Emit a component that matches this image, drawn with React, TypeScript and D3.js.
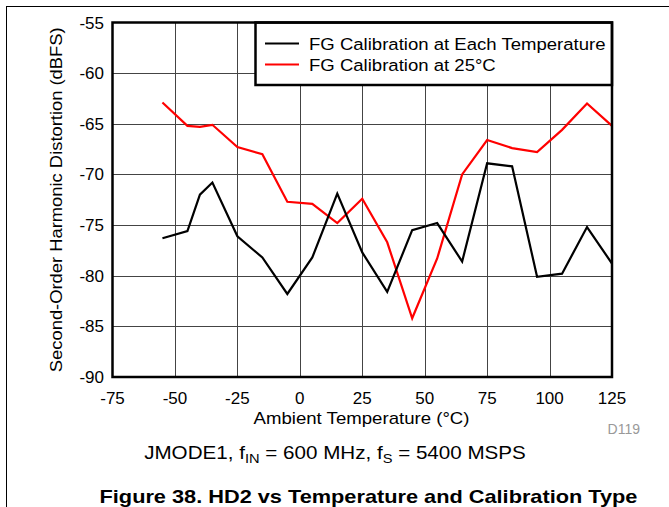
import { useEffect, useRef } from 'react';
import * as d3 from 'd3';

// temperatures (°C) sampled in the reference
const temps = [-55, -45, -40, -35, -25, -15, -5, 5, 15, 25, 35, 45, 55, 65, 75, 85, 95, 105, 115, 125];
// HD2 (dBFS), FG calibration at each temperature
const hd2EachTemp = [-76.3, -75.6, -72.0, -70.8, -76.1, -78.2, -81.8, -78.2, -71.9, -77.7, -81.6, -75.5, -74.8, -78.6, -68.9, -69.2, -80.1, -79.8, -75.2, -78.8];
// HD2 (dBFS), FG calibration at 25°C
const hd2At25 = [-62.9, -65.2, -65.3, -65.1, -67.3, -68.0, -72.7, -72.9, -74.8, -72.4, -76.7, -84.2, -78.3, -70.0, -66.6, -67.4, -67.8, -65.6, -63.0, -65.2];

const xTicks = [-75, -50, -25, 0, 25, 50, 75, 100, 125];
const yTicks = [-55, -60, -65, -70, -75, -80, -85, -90];

const seriesNames = ['FG Calibration at Each Temperature', 'FG Calibration at 25°C'];
const seriesColors = ['#000000', '#ff0000'];

const W = 669;
const H = 507;
const FONT = '"Liberation Sans", Arial, Helvetica, sans-serif';

export default function App() {
  const ref = useRef<SVGSVGElement | null>(null);

  useEffect(() => {
    if (!ref.current) return;
    const svg = d3.select(ref.current);
    svg.selectAll('*').remove();

    const m = { left: 112.5, top: 22.5, right: 612, bottom: 377 };

    const x = d3.scaleLinear().domain([-75, 125]).range([m.left, m.right]);
    const y = d3.scaleLinear().domain([-55, -90]).range([m.top, m.bottom]);

    // text helper: the source font is a bit wider than Liberation Sans, so stretch horizontally
    const label = (
      px: number,
      py: number,
      str: string,
      size: number,
      anchor: string,
      sx = 1,
      rot = 0,
    ) =>
      svg
        .append('text')
        .attr('transform', `translate(${px},${py}) rotate(${rot}) scale(${sx},1)`)
        .attr('text-anchor', anchor)
        .attr('font-family', FONT)
        .attr('font-size', size)
        .attr('fill', '#000')
        .text(str);

    // outer page frame (top + left rule)
    svg.append('line').attr('x1', 6).attr('x2', W).attr('y1', 6.5).attr('y2', 6.5)
      .attr('stroke', '#000').attr('stroke-width', 1);
    svg.append('line').attr('x1', 6.5).attr('x2', 6.5).attr('y1', 6).attr('y2', H)
      .attr('stroke', '#000').attr('stroke-width', 1);

    // grid
    const grid = svg.append('g');
    grid.selectAll('line.gx')
      .data(xTicks.slice(1, -1))
      .enter()
      .append('line')
      .attr('x1', (d) => Math.round(x(d)) + 0.5)
      .attr('x2', (d) => Math.round(x(d)) + 0.5)
      .attr('y1', m.top)
      .attr('y2', m.bottom)
      .attr('stroke', '#444')
      .attr('stroke-width', 1);
    grid.selectAll('line.gy')
      .data(yTicks.slice(1, -1))
      .enter()
      .append('line')
      .attr('x1', m.left)
      .attr('x2', m.right)
      .attr('y1', (d) => Math.round(y(d)) + 0.5)
      .attr('y2', (d) => Math.round(y(d)) + 0.5)
      .attr('stroke', '#444')
      .attr('stroke-width', 1);

    // series lines (red first so black sits on top)
    const line = d3.line<number>()
      .x((_d, i) => x(temps[i]))
      .y((d) => y(d));

    [hd2At25, hd2EachTemp].forEach((vals, k) => {
      svg.append('path')
        .datum(vals)
        .attr('d', line)
        .attr('fill', 'none')
        .attr('stroke', k === 0 ? seriesColors[1] : seriesColors[0])
        .attr('stroke-width', 2.2)
        .attr('stroke-linejoin', 'miter');
    });

    // legend box
    svg.append('rect')
      .attr('x', 255.5)
      .attr('y', m.top)
      .attr('width', m.right - 255.5)
      .attr('height', 62.5)
      .attr('fill', '#fff')
      .attr('stroke', '#000')
      .attr('stroke-width', 2.5);
    seriesNames.forEach((name, i) => {
      const ly = 43.5 + i * 21;
      svg.append('line')
        .attr('x1', 265).attr('x2', 299)
        .attr('y1', ly).attr('y2', ly)
        .attr('stroke', seriesColors[i])
        .attr('stroke-width', 2.2);
      label(309, ly + 6, name, 17, 'start', 1.092);
    });

    // plot frame
    svg.append('rect')
      .attr('x', m.left)
      .attr('y', m.top)
      .attr('width', m.right - m.left)
      .attr('height', m.bottom - m.top)
      .attr('fill', 'none')
      .attr('stroke', '#000')
      .attr('stroke-width', 2.5);

    // tick labels
    yTicks.forEach((d) => label(104, y(d) + 6, String(d), 17, 'end'));
    xTicks.forEach((d) => label(x(d), 404, String(d), 17, 'middle'));

    // axis titles
    label(361.5, 424, 'Ambient Temperature (°C)', 17, 'middle', 1.095);
    label(62, (m.top + m.bottom) / 2, 'Second-Order Harmonic Distortion (dBFS)', 17, 'middle', 1.08, -90);

    label(640, 434, 'D119', 14, 'end').attr('fill', '#999');

    // condition subtitle
    const sub = label(335, 459, '', 19, 'middle', 1.085);
    sub.append('tspan').text('JMODE1, f');
    sub.append('tspan').attr('dy', 4).attr('font-size', 13.5).text('IN');
    sub.append('tspan').attr('dy', -4).text(' = 600 MHz, f');
    sub.append('tspan').attr('dy', 4).attr('font-size', 13.5).text('S');
    sub.append('tspan').attr('dy', -4).text(' = 5400 MSPS');

    // figure caption
    label(368.5, 503, 'Figure 38. HD2 vs Temperature and Calibration Type', 19, 'middle', 1.145)
      .attr('font-weight', 'bold');
  }, []);

  return (
    <svg
      ref={ref}
      width={W}
      height={H}
      style={{ position: 'absolute', left: 0, top: 0, background: '#fff' }}
    />
  );
}
